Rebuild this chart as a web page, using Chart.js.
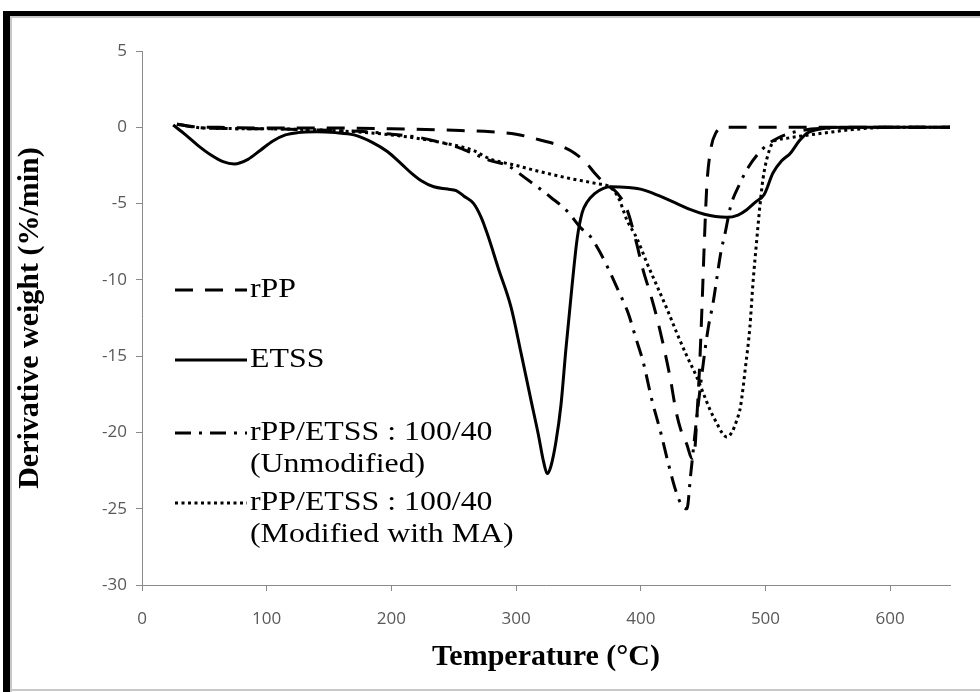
<!DOCTYPE html>
<html><head><meta charset="utf-8">
<script src="https://cdn.jsdelivr.net/npm/chart.js@4.4.1/dist/chart.umd.min.js"></script>
<style>html,body{margin:0;padding:0;background:#fff;}#wrap{width:980px;height:692px;position:relative;}</style>
</head><body><div id="wrap"><canvas id="c"></canvas></div>
<script>
// ---- data ----
const xTickValues = [0, 100, 200, 300, 400, 500, 600];
const yTickValues = [5, 0, -5, -10, -15, -20, -25, -30];

const legendLabels = [
  ['rPP'],
  ['ETSS'],
  ['rPP/ETSS : 100/40', '(Unmodified)'],
  ['rPP/ETSS : 100/40', '(Modified with MA)']
];

const rppTemp = [28, 40, 60, 100, 150, 200, 250, 280, 300, 320, 335, 347, 357, 363, 370, 381, 389, 396, 402, 408, 413, 419, 424, 428, 432, 437, 441, 443, 445, 447, 449, 451, 453, 456, 460, 468, 500, 550, 600, 648];
const rppDW   = [0.2, 0.05, 0, -0.05, -0.05, -0.1, -0.2, -0.3, -0.45, -0.85, -1.2, -1.7, -2.4, -3.0, -3.6, -4.3, -5.4, -7.4, -9.4, -11.0, -12.5, -14.6, -16.6, -18.5, -19.8, -20.8, -21.7, -21.4, -19.0, -16.0, -12.0, -7.5, -3.8, -1.5, -0.4, 0, 0, 0, 0, 0];

const etssTemp = [25, 35, 45, 55, 65, 74, 85, 95, 105, 115, 125, 140, 155, 170, 185, 197, 208, 216, 224, 234, 245, 252, 258, 266, 272, 277, 286, 296, 304, 312, 318, 322, 325, 328, 332, 336, 340, 345, 349, 353, 357, 363, 370, 376, 390, 402, 415, 429, 440, 451, 460, 469, 478, 485, 492, 499, 506, 513, 520, 527, 533, 545, 560, 600, 648];
const etssDW   = [0.15, -0.5, -1.2, -1.8, -2.25, -2.4, -2.1, -1.5, -0.9, -0.5, -0.35, -0.3, -0.35, -0.5, -1.0, -1.6, -2.4, -3.0, -3.5, -3.9, -4.05, -4.15, -4.5, -5.0, -5.9, -7.0, -9.3, -11.8, -14.8, -17.9, -20.2, -21.9, -22.7, -22.2, -20.6, -18.2, -14.5, -10.3, -7.3, -5.6, -4.9, -4.35, -4.0, -3.9, -3.95, -4.1, -4.5, -5.0, -5.4, -5.7, -5.85, -5.9, -5.75, -5.4, -4.9, -4.4, -3.0, -2.2, -1.7, -0.9, -0.4, -0.1, 0, 0, 0];

const unmodTemp = [28, 50, 100, 150, 180, 200, 221, 240, 253, 265, 280, 293, 307, 317, 328, 341, 352, 360, 366, 373, 382, 390, 396, 402, 409, 416, 422, 428, 433, 437, 440, 444, 449, 454, 458, 461, 464, 468, 472, 480, 486, 498, 510, 530, 560, 600, 648];
const unmodDW   = [0.2, -0.05, -0.1, -0.2, -0.3, -0.45, -0.65, -1.0, -1.3, -1.7, -2.2, -2.5, -3.3, -3.9, -4.6, -5.5, -6.6, -7.2, -8.0, -9.1, -10.7, -12.2, -13.8, -15.4, -17.9, -20.0, -22.0, -23.8, -24.8, -25.0, -22.8, -19.7, -16.2, -13.2, -11.5, -9.9, -8.3, -6.8, -5.2, -3.6, -2.65, -1.4, -0.7, -0.2, -0.05, 0, 0];

const modTemp = [28, 50, 100, 150, 200, 240, 265, 280, 300, 314, 340, 365, 375, 382, 389, 397, 405, 413, 421, 429, 437, 444, 450, 456, 461, 465, 469, 473, 477, 480, 484, 487.5, 490, 493, 495.5, 498, 502, 507, 515, 522, 540, 570, 600, 648];
const modDW   = [0.2, -0.05, -0.1, -0.2, -0.5, -1.0, -1.5, -2.1, -2.5, -2.8, -3.3, -3.7, -3.9, -4.6, -6.1, -7.3, -8.9, -10.4, -11.9, -13.5, -15.0, -16.2, -17.4, -18.6, -19.4, -20.0, -20.3, -20.0, -19.2, -18.3, -15.7, -13.1, -10.2, -7.4, -5.2, -3.4, -1.8, -0.9, -0.75, -0.65, -0.45, -0.15, 0, 0];

const dashStyles = [[18, 12], [], [16, 8, 3, 8], [3, 3.5]];

function pts(t, v) { return t.map((x, i) => ({ x: x, y: v[i] })); }

const seriesData = [pts(rppTemp, rppDW), pts(etssTemp, etssDW), pts(unmodTemp, unmodDW), pts(modTemp, modDW)];

const datasets = seriesData.map((d, i) => ({
  label: legendLabels[i].join(' '),
  data: d,
  borderColor: '#000',
  borderWidth: 3,
  borderDash: dashStyles[i],
  pointRadius: 0,
  fill: false,
  cubicInterpolationMode: 'monotone',
  tension: 0.4
}));

const framePlugin = {
  id: 'frame',
  beforeDraw(chart) {
    const ctx = chart.ctx;
    ctx.save();
    ctx.fillStyle = '#fff';
    ctx.fillRect(0, 0, chart.width, chart.height);
    ctx.restore();
  },
  afterDraw(chart) {
    const ctx = chart.ctx;
    ctx.save();
    ctx.fillStyle = '#000';
    ctx.fillRect(3, 11, chart.width - 3, 5);
    ctx.fillRect(3, 11, 7, chart.height - 11);
    ctx.fillStyle = '#c8c8c8';
    ctx.fillRect(10, 16, chart.width - 10, 2);
    ctx.fillRect(10, 16, 2, chart.height - 16);
    ctx.fillRect(10, chart.height - 3, chart.width - 10, 2);
    ctx.restore();
  }
};

const legendPlugin = {
  id: 'inlineLegend',
  afterDraw(chart) {
    const ctx = chart.ctx;
    const a = chart.chartArea;
    const x0 = a.left + 33, x1 = a.left + 105, tx = a.left + 108;
    const rows = [a.top + 239, a.top + 309, a.top + 382, a.top + 452];
    ctx.save();
    ctx.strokeStyle = '#000';
    ctx.fillStyle = '#000';
    ctx.lineWidth = 3;
    ctx.textBaseline = 'middle';
    ctx.font = '27px "Liberation Serif", "Times New Roman", serif';
    rows.forEach((y, i) => {
      ctx.beginPath();
      ctx.setLineDash(dashStyles[i]);
      ctx.moveTo(x0, y);
      ctx.lineTo(x1, y);
      ctx.stroke();
      legendLabels[i].forEach((t, j) => {
        ctx.save();
        ctx.translate(tx, y + j * 32);
        ctx.scale(1.18, 1);
        ctx.fillText(t, 0, 0);
        ctx.restore();
      });
    });
    ctx.restore();
  }
};

const axisColor = '#8a8a8a';
const tickFont = { family: '"Open Sans", "Liberation Sans", sans-serif', size: 17 };

new Chart(document.getElementById('c'), {
  type: 'line',
  data: { datasets: datasets },
  plugins: [framePlugin, legendPlugin],
  options: {
    responsive: true,
    maintainAspectRatio: false,
    animation: false,
    layout: { padding: { top: 51, right: 30, bottom: 0, left: 0 } },
    plugins: { legend: { display: false }, tooltip: { enabled: false } },
    scales: {
      x: {
        type: 'linear',
        min: 0, max: 648,
        afterBuildTicks: s => { s.ticks = xTickValues.map(v => ({ value: v })); },
        afterFit: s => { s.height = 107; },
        grid: { display: true, drawOnChartArea: false, drawTicks: true, tickLength: 6, color: axisColor },
        border: { display: true, color: axisColor, width: 1 },
        ticks: { color: '#595959', font: tickFont, padding: 18, maxRotation: 0 },
        title: { display: true, text: 'Temperature (°C)', color: '#000',
                 font: { family: '"Liberation Serif", "Times New Roman", serif', size: 30, weight: 'bold' },
                 padding: { top: 0, bottom: 17 } }
      },
      y: {
        type: 'linear',
        min: -30, max: 5,
        afterBuildTicks: s => { s.ticks = yTickValues.map(v => ({ value: v })); },
        afterFit: s => { s.width = 142; },
        grid: { display: true, drawOnChartArea: false, drawTicks: true, tickLength: 6, color: axisColor },
        border: { display: true, color: axisColor, width: 1 },
        ticks: { color: '#595959', font: tickFont, padding: 9 },
        title: { display: true, text: 'Derivative weight (%/min)', color: '#000',
                 font: { family: '"Liberation Serif", "Times New Roman", serif', size: 30, weight: 'bold' },
                 padding: { top: 12, bottom: 0 } }
      }
    }
  }
});
</script>
</body></html>
